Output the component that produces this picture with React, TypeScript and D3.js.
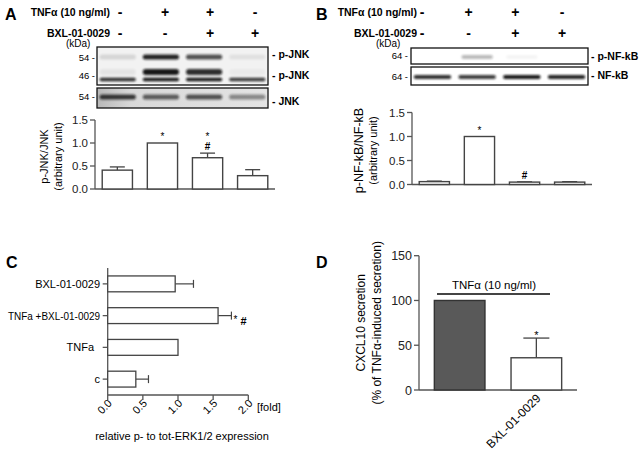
import React from 'react';
import * as d3 from 'd3';

const lanes = ['c', 'TNF', 'TNF+BXL', 'BXL'];
const tnfSigns = ['-', '+', '+', '-'];
const bxlSigns = ['-', '-', '+', '+'];

// western blot band intensities (0..1), one per lane
const pJnk54 = [0.12, 0.9, 0.7, 0.07];
const pJnk46 = [0.06, 0.95, 0.85, 0.03];
const pJnk44 = [0.85, 0.95, 0.95, 0.8];
const jnkTotal = [0.8, 0.62, 0.68, 0.42];
const pNfkb = [0, 0.28, 0.04, 0];
const nfkbTotal = [0.85, 0.8, 0.95, 0.9];

// densitometry
const jnkRatio = [0.41, 1.0, 0.68, 0.29];
const jnkErr = [0.07, 0, 0.1, 0.13];
const jnkStar = ['', '*', '*', ''];
const jnkHash = ['', '', '#', ''];
const nfkbRatio = [0.06, 1.0, 0.05, 0.05];
const nfkbErr = [0.01, 0, 0.005, 0.01];
const nfkbStar = ['', '*', '', ''];
const nfkbHash = ['', '', '#', ''];
const ratioTicks = [0, 0.5, 1.0, 1.5];

// panel C
const erkCats = ['BXL-01-0029', 'TNFa +BXL-01-0029', 'TNFa', 'c'];
const erkVals = [0.96, 1.57, 1.0, 0.4];
const erkErr = [0.26, 0.19, 0, 0.18];
const erkTicks = [0, 0.5, 1.0, 1.5, 2.0];

// panel D
const cxclCats = ['TNFα', 'BXL-01-0029'];
const cxclVals = [100, 36];
const cxclErr = [0, 22];
const cxclTicks = [0, 50, 100, 150];

const font = 'Arial, "Liberation Sans", Helvetica, sans-serif';
const axisColor = '#555';
const barStroke = '#444';

function Band({ x, w, y, h, k }: { x: number; w: number; y: number; h: number; k: number }) {
  if (k <= 0) return null;
  return <rect x={x} y={y - h / 2} width={w} height={h} rx={h / 2} fill="#111" opacity={k} filter="url(#blur)" />;
}

function Header({ sx, left }: { sx: d3.ScalePoint<string>; left: number }) {
  return (
    <g fontFamily={font} fontWeight="bold">
      <text x={left} y={16} fontSize={10.5} textAnchor="end">TNFα (10 ng/ml)</text>
      <text x={left} y={37} fontSize={10.5} textAnchor="end">BXL-01-0029</text>
      {lanes.map((l, i) => (
        <g key={l}>
          <text x={sx(l)} y={17} fontSize={14} textAnchor="middle">{tnfSigns[i]}</text>
          <text x={sx(l)} y={38} fontSize={14} textAnchor="middle">{bxlSigns[i]}</text>
        </g>
      ))}
    </g>
  );
}

function RatioChart({ x, y, vals, errs, stars, hashes, label, labelX, labelSize }: any) {
  const [x0, x1] = x.range();
  const [y0, y1] = y.range();
  const cap = 15;
  return (
    <g fontFamily={font}>
      <line x1={x0} x2={x1} y1={y0} y2={y0} stroke={axisColor} strokeWidth={1.3} />
      <line x1={x0} x2={x0} y1={y0} y2={y1} stroke={axisColor} strokeWidth={1.3} />
      {ratioTicks.map(t => (
        <g key={t}>
          <line x1={x0 - 5} x2={x0} y1={y(t)} y2={y(t)} stroke={axisColor} strokeWidth={1.3} />
          <text x={x0 - 7} y={y(t) + 4} fontSize={11.5} textAnchor="end" fill="#222">{t.toFixed(1)}</text>
        </g>
      ))}
      {lanes.map((l, i) => {
        const bx = x(l);
        const bw = x.bandwidth();
        const cx = bx + bw / 2;
        const top = y(vals[i]);
        const et = y(vals[i] + errs[i]);
        return (
          <g key={l}>
            {errs[i] > 0 && (
              <g stroke={barStroke} strokeWidth={1.3}>
                <line x1={cx} x2={cx} y1={top} y2={et} />
                <line x1={cx - cap / 2} x2={cx + cap / 2} y1={et} y2={et} />
              </g>
            )}
            <rect x={bx} y={top} width={bw} height={y0 - top} fill="#fff" stroke={barStroke} strokeWidth={1.4} />
            {stars[i] && <text x={cx} y={(hashes[i] ? et - 13 : et - 3)} fontSize={10} textAnchor="middle">*</text>}
            {hashes[i] && <text x={cx} y={et - 3} fontSize={10} fontWeight="bold" textAnchor="middle">#</text>}
          </g>
        );
      })}
      <text transform={`translate(${labelX},${(y0 + y1) / 2 + 2}) rotate(-90)`} textAnchor="middle" fontSize={labelSize}>
        <tspan x={0} dy={0}>{label}</tspan>
        <tspan x={0} dy={14} fontSize={11}>(arbitrary unit)</tspan>
      </text>
    </g>
  );
}

export default function App() {
  // ---- panel A
  const laneA = d3.scaleBand<string>().domain(lanes).range([97, 268]).paddingInner(0.16).paddingOuter(0.06);
  const signA = d3.scalePoint<string>().domain(lanes).range([120, 255]);
  const xA = d3.scaleBand<string>().domain(lanes).range([95, 275]).paddingInner(0.33).paddingOuter(0.16);
  const yA = d3.scaleLinear().domain([0, 1.5]).range([189, 120]);

  // ---- panel B
  const laneB = d3.scaleBand<string>().domain(lanes).range([411, 588]).paddingInner(0.16).paddingOuter(0.06);
  const signB = d3.scalePoint<string>().domain(lanes).range([422, 562]);
  const xB = d3.scaleBand<string>().domain(lanes).range([412, 592]).paddingInner(0.33).paddingOuter(0.16);
  const yB = d3.scaleLinear().domain([0, 1.5]).range([184.5, 112.5]);

  // ---- panel C
  const yC = d3.scaleBand<string>().domain(erkCats).range([268, 395]).paddingInner(0.5).paddingOuter(0.25);
  const xC = d3.scaleLinear().domain([0, 2]).range([107.7, 248.3]);

  // ---- panel D
  const xD = d3.scaleBand<string>().domain(cxclCats).range([419, 577]).paddingInner(0.34).paddingOuter(0.2);
  const yD = d3.scaleLinear().domain([0, 150]).range([390, 255.7]);

  const lw = laneA.bandwidth();
  const lwB = laneB.bandwidth();

  return (
    <div style={{ position: 'absolute', left: 0, top: 0 }}>
      <svg width={640} height={453} viewBox="0 0 640 453" style={{ display: 'block', background: '#fff' }}>
        <defs>
          <filter id="blur" x="-20%" y="-100%" width="140%" height="300%">
            <feGaussianBlur stdDeviation="1.1" />
          </filter>
          <linearGradient id="jnkBg" x1="0" x2="1" y1="0" y2="0">
            <stop offset="0" stopColor="#b8b8b8" />
            <stop offset="0.2" stopColor="#d8d8d8" />
            <stop offset="1" stopColor="#e4e4e4" />
          </linearGradient>
        </defs>

        {/* ===== A ===== */}
        <text x={5} y={20} fontFamily={font} fontWeight="bold" fontSize={16}>A</text>
        <Header sx={signA} left={110} />
        <text x={66} y={47} fontFamily={font} fontSize={10}>(kDa)</text>
        <rect x={97} y={47} width={171} height={38} fill="#f2f2f2" />
        {lanes.map((l, i) => (
          <g key={l}>
            <Band x={laneA(l)!} w={lw} y={57} h={5} k={pJnk54[i]} />
            <Band x={laneA(l)!} w={lw} y={72} h={6} k={pJnk46[i]} />
            <Band x={laneA(l)!} w={lw} y={79.5} h={3.5} k={pJnk44[i]} />
          </g>
        ))}
        <rect x={97} y={47} width={171} height={38} fill="none" stroke="#111" strokeWidth={1.3} />
        <rect x={97} y={88} width={171} height={20} fill="url(#jnkBg)" />
        {lanes.map((l, i) => (
          <Band key={l} x={laneA(l)!} w={lw} y={97} h={5} k={jnkTotal[i]} />
        ))}
        <rect x={97} y={88} width={171} height={20} fill="none" stroke="#111" strokeWidth={1.3} />
        <g fontFamily={font} fontSize={9.5} textAnchor="end">
          <text x={95} y={61}>54 -</text>
          <text x={95} y={79}>46 -</text>
          <text x={95} y={100}>54 -</text>
        </g>
        <g fontFamily={font} fontSize={10.5} fontWeight="bold">
          <text x={272} y={58}>- p-JNK</text>
          <text x={272} y={79}>- p-JNK</text>
          <text x={272} y={105}>- JNK</text>
        </g>
        <RatioChart x={xA} y={yA} vals={jnkRatio} errs={jnkErr} stars={jnkStar} hashes={jnkHash}
          label="p-JNK/JNK" labelX={48} labelSize={11} />

        {/* ===== B ===== */}
        <text x={316} y={20} fontFamily={font} fontWeight="bold" fontSize={16}>B</text>
        <Header sx={signB} left={417} />
        <text x={376} y={47} fontFamily={font} fontSize={10}>(kDa)</text>
        {lanes.map((l, i) => (
          <g key={l}>
            <Band x={laneB(l)! + 3} w={lwB - 6} y={57} h={4} k={pNfkb[i]} />
            <Band x={laneB(l)!} w={lwB} y={77} h={4} k={nfkbTotal[i]} />
          </g>
        ))}
        <rect x={411} y={48} width={177} height={16} fill="none" stroke="#111" strokeWidth={1.3} />
        <rect x={411} y={67} width={177} height={18} fill="none" stroke="#111" strokeWidth={1.3} />
        <g fontFamily={font} fontSize={9.5} textAnchor="end">
          <text x={408} y={59}>64 -</text>
          <text x={408} y={80}>64 -</text>
        </g>
        <g fontFamily={font} fontSize={10.5} fontWeight="bold">
          <text x={591} y={60}>- p-NF-kB</text>
          <text x={591} y={79}>- NF-kB</text>
        </g>
        <RatioChart x={xB} y={yB} vals={nfkbRatio} errs={nfkbErr} stars={nfkbStar} hashes={nfkbHash}
          label="p-NF-kB/NF-kB" labelX={363} labelSize={12.5} />

        {/* ===== C ===== */}
        <text x={6} y={268} fontFamily={font} fontWeight="bold" fontSize={16}>C</text>
        <g fontFamily={font}>
          <line x1={xC(0)} x2={xC(0)} y1={268} y2={395} stroke={axisColor} strokeWidth={1.3} />
          <line x1={xC(0)} x2={xC(2)} y1={395} y2={395} stroke={axisColor} strokeWidth={1.3} />
          {erkTicks.map(t => (
            <g key={t}>
              <line x1={xC(t)} x2={xC(t)} y1={395} y2={400} stroke={axisColor} strokeWidth={1.3} />
              <text transform={`translate(${xC(t) + 5},${404}) rotate(-45)`} textAnchor="end" fontSize={11}>{t.toFixed(1)}</text>
            </g>
          ))}
          <text x={257} y={411} fontSize={11}>[fold]</text>
          <text x={182} y={440} fontSize={11} textAnchor="middle">relative p- to tot-ERK1/2 expression</text>
          {erkCats.map((c, i) => {
            const by = yC(c)!;
            const bh = yC.bandwidth();
            const cy = by + bh / 2;
            const end = xC(erkVals[i]);
            const ee = xC(erkVals[i] + erkErr[i]);
            const long = c.length > 12;
            return (
              <g key={c}>
                <line x1={xC(0) - 5} x2={xC(0)} y1={cy} y2={cy} stroke={axisColor} strokeWidth={1.3} />
                <text x={c === 'TNFa' ? 94 : 100} y={cy + 4} fontSize={11} textAnchor="end"
                  {...(long ? { textLength: 92, lengthAdjust: 'spacingAndGlyphs' } : {})}>{c}</text>
                {erkErr[i] > 0 && (
                  <g stroke={barStroke} strokeWidth={1.2}>
                    <line x1={end} x2={ee} y1={cy} y2={cy} />
                    <line x1={ee} x2={ee} y1={cy - 4} y2={cy + 4} />
                  </g>
                )}
                <rect x={xC(0)} y={by} width={end - xC(0)} height={bh} fill="#fff" stroke={barStroke} strokeWidth={1.3} />
              </g>
            );
          })}
          <text x={xC(erkVals[1] + erkErr[1]) + 2} y={yC(erkCats[1])! + yC.bandwidth() / 2 + 7} fontSize={10}>*</text>
          <text x={xC(erkVals[1] + erkErr[1]) + 9} y={yC(erkCats[1])! + yC.bandwidth() / 2 + 9} fontSize={11} fontWeight="bold">#</text>
        </g>

        {/* ===== D ===== */}
        <text x={316} y={268} fontFamily={font} fontWeight="bold" fontSize={16}>D</text>
        <g fontFamily={font}>
          <line x1={419} x2={419} y1={yD(0)} y2={yD(150)} stroke={axisColor} strokeWidth={1.3} />
          <line x1={419} x2={577} y1={yD(0)} y2={yD(0)} stroke={axisColor} strokeWidth={1.3} />
          {cxclTicks.map(t => (
            <g key={t}>
              <line x1={414} x2={419} y1={yD(t)} y2={yD(t)} stroke={axisColor} strokeWidth={1.3} />
              <text x={412} y={yD(t) + 4.5} fontSize={12.5} textAnchor="end" fill="#222">{t}</text>
            </g>
          ))}
          {cxclCats.map((c, i) => {
            const bx = xD(c)!;
            const bw = xD.bandwidth();
            const cx = bx + bw / 2;
            const top = yD(cxclVals[i]);
            const et = yD(cxclVals[i] + cxclErr[i]);
            return (
              <g key={c}>
                {cxclErr[i] > 0 && (
                  <g stroke={barStroke} strokeWidth={1.3}>
                    <line x1={cx} x2={cx} y1={top} y2={et} />
                    <line x1={cx - 13} x2={cx + 13} y1={et} y2={et} />
                  </g>
                )}
                <rect x={bx} y={top} width={bw} height={yD(0) - top} fill={i === 0 ? '#595959' : '#fff'}
                  stroke={i === 0 ? '#333' : barStroke} strokeWidth={1.4} />
                {cxclErr[i] > 0 && <text x={cx} y={et + 1} fontSize={11} textAnchor="middle">*</text>}
              </g>
            );
          })}
          <line x1={437} x2={550} y1={294} y2={294} stroke="#444" strokeWidth={2} />
          <text x={494} y={289} fontSize={11.5} textAnchor="middle">TNFα (10 ng/ml)</text>
          <text transform={`translate(${xD(cxclCats[1])! + xD.bandwidth() / 2 + 5},${399}) rotate(-45)`} textAnchor="end" fontSize={12}>BXL-01-0029</text>
          <text transform={`translate(365,${(yD(0) + yD(150)) / 2}) rotate(-90)`} textAnchor="middle" fontSize={12}>
            <tspan x={0} dy={0}>CXCL10 secretion</tspan>
            <tspan x={0} dy={16}>(% of TNFα-induced secretion)</tspan>
          </text>
        </g>
      </svg>
    </div>
  );
}
